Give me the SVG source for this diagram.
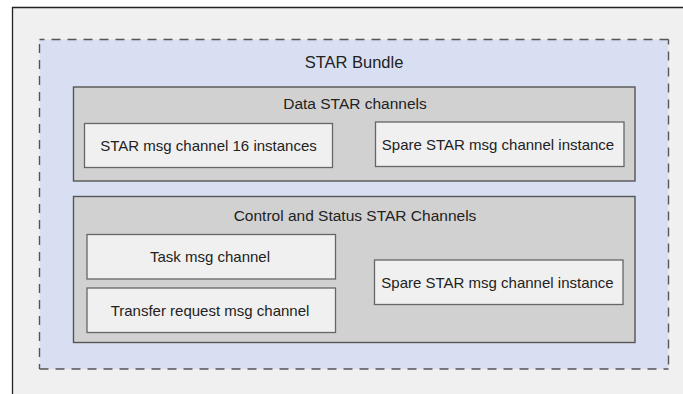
<svg xmlns="http://www.w3.org/2000/svg" width="683" height="394" viewBox="0 0 683 394">
  <style>
    .frame { fill: #f0f0f0; }
    .frame-edge { stroke: #222; stroke-width: 1.3; fill: none; }
    .bundle { fill: #d9dff2; }
    .dash { stroke: #555; stroke-width: 1.4; fill: none; stroke-dasharray: 9 7; stroke-dashoffset: 4; }
    .group { fill: #d1d1d1; stroke: #555; stroke-width: 1.4; }
    .chan { fill: #f0f0f0; stroke: #666; stroke-width: 1.3; }
    text { font-family: "Liberation Sans", Arial, sans-serif; fill: #222; text-anchor: middle; }
    .title { font-size: 16.5px; }
    .head { font-size: 15.5px; }
    .label { font-size: 15px; }
  </style>

  <!-- page background and frame -->
  <rect x="0" y="0" width="683" height="394" fill="#ffffff"/>
  <rect class="frame" x="12.5" y="7.5" width="671" height="387"/>
  <path class="frame-edge" d="M12.5 394 V7.5 H683"/>

  <!-- STAR bundle container -->
  <g id="star-bundle">
    <rect class="bundle" x="39.5" y="39.5" width="629" height="329.5"/>
    <line class="dash" x1="39.5" y1="39.5" x2="668.5" y2="39.5"/>
    <line class="dash" x1="668.5" y1="39.5" x2="668.5" y2="369"/>
    <line class="dash" x1="668.5" y1="369" x2="39.5" y2="369"/>
    <line class="dash" x1="39.5" y1="369" x2="39.5" y2="39.5"/>
    <text class="title" x="354" y="67.5">STAR Bundle</text>
  </g>

  <!-- data channels -->
  <g id="data-channels">
    <rect class="group" x="73.5" y="87" width="561.5" height="94"/>
    <text class="head" x="355" y="109">Data STAR channels</text>
  </g>
  <g id="data-msg-channel">
    <rect class="chan" x="84.5" y="123.5" width="248" height="44"/>
    <text class="label" x="208.5" y="150.5">STAR msg channel 16 instances</text>
  </g>
  <g id="data-spare-channel">
    <rect class="chan" x="375.5" y="122" width="248.5" height="44.5"/>
    <text class="label" x="498" y="149.5">Spare STAR msg channel instance</text>
  </g>

  <!-- control and status channels -->
  <g id="control-status-channels">
    <rect class="group" x="73.5" y="196.5" width="561.5" height="146"/>
    <text class="head" x="355" y="220.5">Control and Status STAR Channels</text>
  </g>
  <g id="task-msg-channel">
    <rect class="chan" x="87" y="234.5" width="248.5" height="44.5"/>
    <text class="label" x="210" y="262">Task msg channel</text>
  </g>
  <g id="transfer-request-channel">
    <rect class="chan" x="87" y="288" width="248.5" height="44.5"/>
    <text class="label" x="210" y="315.5">Transfer request msg channel</text>
  </g>
  <g id="control-spare-channel">
    <rect class="chan" x="374.5" y="260" width="248.5" height="44.5"/>
    <text class="label" x="497.5" y="287.5">Spare STAR msg channel instance</text>
  </g>

  <!-- no connectors in this diagram -->
  <g id="connectors"></g>
</svg>
